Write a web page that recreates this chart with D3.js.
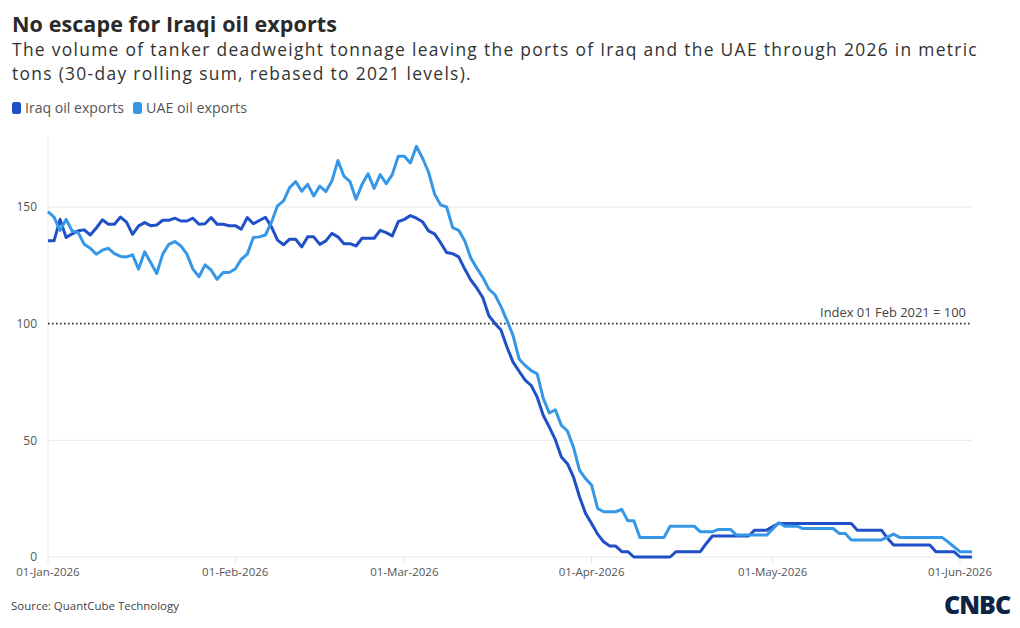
<!DOCTYPE html>
<html><head><meta charset="utf-8">
<script src="https://cdn.jsdelivr.net/npm/d3@7"></script>
<style>
html,body{margin:0;padding:0;background:#fff;}
svg{display:block;font-family:"Open Sans",sans-serif;}
</style></head>
<body><svg id="chart" width="1020" height="628"></svg>
<script>
// ---------- data ----------
const startDate = "2026-01-01";
const seriesNames = ["Iraq oil exports", "UAE oil exports"];
const iraq = [
135.5,135.5,144.7,136.9,138.5,139.8,140.2,138,141,144.5,
142.6,142.6,145.7,143.5,138.3,141.9,143.3,142,142.3,144.3,
144.3,145.2,144,144,145.2,142.6,142.8,145.5,142.6,142.6,
142,142,140.5,145.5,142.8,144.2,145.6,141.5,135.8,133.8,
136.2,136.2,132.9,137.2,137.2,134,135.5,138.7,137.2,134.3,
134.3,133.3,136.6,136.6,136.6,140,139,137.6,143.7,144.7,
146.3,145.2,143.7,139.8,138.5,134.7,130.5,130,128.6,123.4,
118.7,115.3,111.1,103.4,100.1,97.3,89.9,83.5,79.6,75.8,
73.5,68.5,60.7,55.7,50.3,42.9,40,34.3,25.8,18.7,
14.4,9.8,6.5,4.7,4.7,2.3,2.3,0,0,0,
0,0,0,0,2.3,2.3,2.3,2.3,2.3,5.8,
9,9,9,9,9,9,9,11.5,11.5,11.5,
13,14.4,14.4,14.4,14.4,14.4,14.4,14.4,14.4,14.4,
14.4,14.4,14.4,14.4,11.5,11.5,11.5,11.5,11.5,8,
5.1,5.1,5.1,5.1,5.1,5.1,5.1,2.3,2.3,2.3,
2.3,0,0,0
];
const uae = [
148,145.7,140,144.7,139.7,139,134,132.3,129.8,131.5,
132.3,130,128.8,128.6,129.5,123.4,130.8,126.2,121.5,129.8,
134,135.2,133.3,129.8,123.4,120.1,125.2,123,119,121.9,
121.9,123.4,127.6,129.8,136.9,137.2,138,143.5,150.5,152.6,
158.3,160.9,156.8,159.7,154.7,159,156.6,161.1,169.9,163.2,
160.9,153.3,159.7,164.2,158,163.9,160,163.9,171.8,171.8,
168.9,176,171,165,155.6,150.9,150,141.2,140,135.5,
128.1,123.8,119.8,114.8,112.4,107.3,101.3,94.9,84.9,82.1,
79.9,78.5,68,61.7,63.1,56.4,54,47.1,37.2,33.6,
30.8,20.8,19.4,19.4,19.4,20.4,15.5,15.5,8.4,8.4,
8.4,8.4,8.4,13.2,13.2,13.2,13.2,13.2,10.8,10.8,
10.8,11.8,11.8,11.8,9.4,9.4,9.4,9.4,9.4,9.4,
12,14.7,13.2,13.2,13.2,12.2,12.2,12.2,12.2,12.2,
12.2,10.1,10.1,7.3,7.3,7.3,7.3,7.3,7.3,8.5,
9.8,8.4,8.4,8.4,8.4,8.4,8.4,8.4,8.4,6.5,
4.4,2.3,2.3,2.3
];
const yTicks = [0, 50, 100, 150];
const xTickDates = ["2026-01-01","2026-02-01","2026-03-01","2026-04-01","2026-05-01","2026-06-01"];
const refValue = 100;
const refLabel = "Index 01 Feb 2021 = 100";
const title = "No escape for Iraqi oil exports";
const subtitle = ["The volume of tanker deadweight tonnage leaving the ports of Iraq and the UAE through 2026 in metric",
                  "tons (30-day rolling sum, rebased to 2021 levels)."];
const source = "Source: QuantCube Technology";

// ---------- setup ----------
const svg = d3.select("#chart");
const colors = ["#1f50c8", "#3597e6"];
const parse = d3.utcParse("%Y-%m-%d");
const t0 = parse(startDate);
const dates = iraq.map((_, i) => d3.utcDay.offset(t0, i));
const fmt = d3.utcFormat("%d-%b-%Y");

const x = d3.scaleUtc().domain([parse("2026-01-01"), parse("2026-06-01")]).range([48, 960]);
const y = d3.scaleLinear().domain([0, 180]).range([557, 137]);
const xEnd = 972;

function fit(sel, target) {
  const w = sel.node().getComputedTextLength();
  const fs = parseFloat(sel.attr("font-size"));
  sel.attr("font-size", (fs * target / w).toFixed(2));
}
// keep font size, widen with letter spacing
function fitLS(sel, target) {
  const n = sel.text().length;
  const w = sel.node().getComputedTextLength();
  sel.attr("letter-spacing", ((target - w) / n).toFixed(3));
}

// title block
fitLS(svg.append("text").attr("x", 12).attr("y", 32).attr("font-size", 21.5).attr("font-weight", 700)
  .attr("fill", "#2a2a2a").text(title), 325);
fitLS(svg.append("text").attr("x", 12).attr("y", 56).attr("font-size", 17.4).attr("fill", "#333")
  .text(subtitle[0]), 966);
fitLS(svg.append("text").attr("x", 12).attr("y", 80).attr("font-size", 17.4).attr("fill", "#333")
  .text(subtitle[1]), 460);

// legend
const legX = [12, 133], legW = [99, 101];
seriesNames.forEach((n, i) => {
  svg.append("rect").attr("x", legX[i]).attr("y", 102).attr("width", 9).attr("height", 12)
    .attr("rx", 2.5).attr("fill", colors[i]);
  fit(svg.append("text").attr("x", legX[i] + 13).attr("y", 113).attr("font-size", 14)
    .attr("fill", "#555").text(n), legW[i]);
});

// gridlines
const g = svg.append("g");
g.selectAll("line.grid").data(yTicks.filter(v => v !== refValue)).join("line")
  .attr("x1", 48).attr("x2", xEnd).attr("y1", d => y(d)).attr("y2", d => y(d))
  .attr("stroke", "#e8e8e8").attr("stroke-width", 1);
// y axis line
g.append("line").attr("x1", 48).attr("x2", 48).attr("y1", 137).attr("y2", 557)
  .attr("stroke", "#e8e8e8");
// x ticks
g.selectAll("line.xt").data(xTickDates.map(parse)).join("line")
  .attr("x1", d => x(d)).attr("x2", d => x(d)).attr("y1", 557).attr("y2", 563)
  .attr("stroke", "#e3e3e3");

// y labels
g.selectAll("text.yl").data(yTicks).join("text")
  .attr("x", 37).attr("y", d => y(d)).attr("dy", "0.35em").attr("text-anchor", "end")
  .attr("font-size", 12).attr("fill", "#555").text(d => d);
// x labels
g.selectAll("text.xl").data(xTickDates.map(parse)).join("text")
  .attr("x", d => x(d)).attr("y", 576).attr("text-anchor", "middle")
  .attr("font-size", 11.5).attr("fill", "#555").text(d => fmt(d));

// reference line
g.append("line").attr("x1", 48).attr("x2", xEnd).attr("y1", y(refValue)).attr("y2", y(refValue))
  .attr("stroke", "#333").attr("stroke-width", 1.6).attr("stroke-dasharray", "1.6,2.4");
const rl = g.append("text").attr("x", 966).attr("y", y(refValue) - 7).attr("text-anchor", "end")
  .attr("font-size", 12).attr("fill", "#444").text(refLabel);
fit(rl, 146);

// lines
const line = d3.line().x((d, i) => x(dates[i])).y(d => y(d));
[iraq, uae].forEach((s, i) => {
  svg.append("path").datum(s).attr("d", line).attr("fill", "none")
    .attr("stroke", colors[i]).attr("stroke-width", 3).attr("stroke-linejoin", "round");
});

// footer
fit(svg.append("text").attr("x", 11).attr("y", 610).attr("font-size", 12).attr("fill", "#444")
  .text(source), 168);
fit(svg.append("text").attr("x", 944).attr("y", 614).attr("font-size", 24).attr("font-weight", 900)
  .attr("fill", "#0f2444").attr("letter-spacing", -1).text("CNBC"), 66);
</script></body></html>
